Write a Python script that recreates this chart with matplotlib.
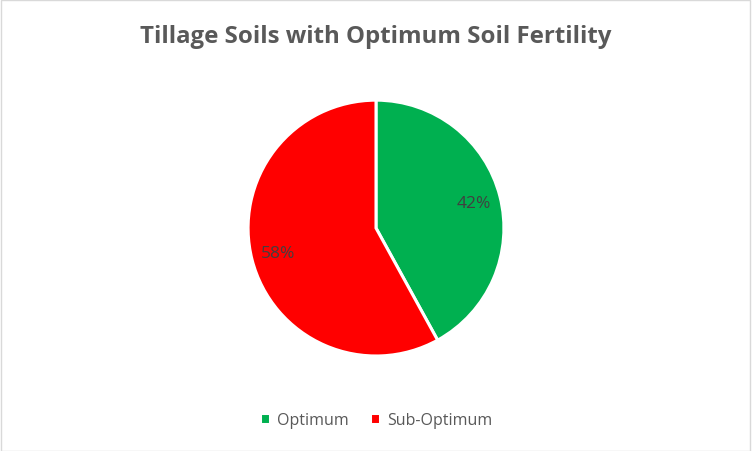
import matplotlib.pyplot as plt
from matplotlib.patches import Rectangle

labels = ['Optimum', 'Sub-Optimum']
shares = [42, 58]
colors = ['#00B050', '#FF0000']
title = 'Tillage Soils with Optimum Soil Fertility'

plt.rcParams['font.family'] = ['Open Sans', 'DejaVu Sans']

fig = plt.figure(figsize=(7.52, 4.52), dpi=100)
ax = fig.add_axes([0.3298, 0.2102, 0.3404, 0.566])

wedges, _, autotexts = ax.pie(shares, colors=colors, startangle=90, counterclock=False,
                              autopct='%1.0f%%', pctdistance=0.79,
                              wedgeprops=dict(edgecolor='white', linewidth=2.2),
                              textprops=dict(color='#404040', fontsize=12.5))
ax.set_aspect('equal')
ax.set_xlim(-1, 1)
ax.set_ylim(-1, 1)

fig.text(0.5, 0.918, title, ha='center', va='center', fontsize=17.3, fontweight='bold', color='#595959')

leg = fig.legend(wedges, labels, loc='center', bbox_to_anchor=(0.5, 0.068), ncol=2, frameon=False,
                 handlelength=0.65, handleheight=0.65, handletextpad=0.45, columnspacing=1.3,
                 fontsize=11.5)
for t in leg.get_texts():
    t.set_color('#595959')

fig.patches.append(Rectangle((0.001, 0.001), 0.997, 0.996, transform=fig.transFigure,
                             fill=False, edgecolor='#D9D9D9', linewidth=1))

fig.savefig('out.png', dpi=100)
